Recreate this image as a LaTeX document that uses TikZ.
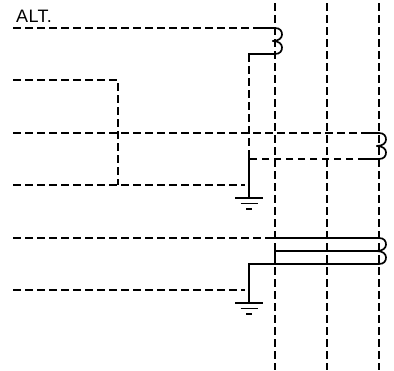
\documentclass[tikz,border=0pt]{standalone}
\usepackage{fontspec}
\setmainfont[LetterSpace=2]{Liberation Sans}
\tikzset{
  dsh/.style={line width=1.5pt,dash pattern=on 7.5pt off 4.5pt},
  sld/.style={line width=1.7pt,line cap=butt,line join=miter},
  gnd/.style={line width=1.7pt}
}
\newcommand{\coil}[2]{% x, top y
  \draw[sld] (#1,#2) .. controls (#1+5,#2) and (#1+7,#2+3) .. (#1+7,#2+6.5)
     .. controls (#1+7,#2+10) and (#1+4,#2+13) .. (#1-2.5,#2+13);
  \draw[sld] (#1,#2+26) .. controls (#1+5,#2+26) and (#1+7,#2+23) .. (#1+7,#2+19.5)
     .. controls (#1+7,#2+16) and (#1+4,#2+13) .. (#1-2.5,#2+13);
}
\newcommand{\earth}[2]{% x, y
  \draw[gnd] (#1-14,#2) -- (#1+14,#2);
  \draw[gnd] (#1-8.5,#2+5.5) -- (#1+8.5,#2+5.5);
  \draw[gnd] (#1-3,#2+11) -- (#1+3,#2+11);
}
\begin{document}
\begin{tikzpicture}[x=1pt,y=-1pt]
\useasboundingbox (0,0) rectangle (394,370);
\foreach \x in {275,327,379} \draw[dsh] (\x,3) -- (\x,370);
\draw[dsh] (13,28) -- (260,28);
\draw[sld] (260,28) -- (275,28);
\coil{275}{28}
\draw[sld] (275,54) -- (248.3,54);
\draw[dsh] (249,54) -- (249,153);
\draw[sld] (249,153) -- (249,198);
\earth{249}{198}
\draw[dsh] (13,80) -- (118,80) -- (118,185);
\draw[dsh] (13,133) -- (365,133);
\draw[sld] (365,133) -- (379,133);
\coil{379}{133}
\draw[sld] (379,159) -- (365,159);
\draw[dsh] (365,159) -- (249,159);
\draw[dsh] (13,185) -- (245,185);
\draw[dsh] (13,238) -- (272,238);
\draw[sld] (272,238) -- (379,238);
\coil{379}{238}
\draw[sld] (379,251) -- (275,251) -- (275,255);
\draw[sld] (379,264) -- (249,264) -- (249,303);
\earth{249}{303}
\draw[dsh] (13,290) -- (245,290);
\node[anchor=base west,inner sep=0pt,font=\fontsize{18}{18}\selectfont] (alt) at (16,22) {ALT.};
\end{tikzpicture}
\end{document}
